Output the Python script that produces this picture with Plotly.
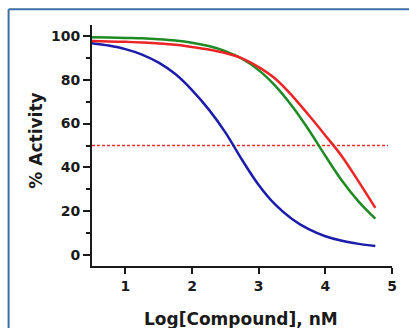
import plotly.graph_objects as go

# Values
log_conc = [0.5, 0.75, 1.0, 1.25, 1.5, 1.75, 2.0, 2.25, 2.5, 2.75,
            3.0, 3.25, 3.5, 3.75, 4.0, 4.25, 4.5, 4.75]
blue_activity = [96.7, 95.6, 94.0, 91.5, 87.8, 82.6, 75.3, 66.5, 56.0, 43.5,
                 32.0, 23.0, 16.5, 11.8, 8.6, 6.5, 5.1, 4.1]
red_activity = [97.7, 97.5, 97.3, 97.0, 96.6, 96.0, 95.0, 93.8, 92.2, 89.8,
                85.8, 80.5, 72.8, 63.9, 54.6, 45.0, 33.5, 21.5]
green_activity = [99.4, 99.3, 99.1, 98.9, 98.5, 97.9, 96.9, 95.4, 93.1, 89.6,
                  84.4, 77.2, 68.0, 57.2, 45.3, 33.9, 24.4, 16.6]
half_line_x = [0.5, 4.94]
half_line_y = [50, 50]
x_ticks = [1, 2, 3, 4, 5]
y_ticks = [0, 20, 40, 60, 80, 100]

fig = go.Figure()
fig.add_trace(go.Scatter(x=half_line_x, y=half_line_y, mode="lines",
                         line=dict(color="#e8302a", width=1.5, dash="3px,2px"),
                         hoverinfo="skip"))
fig.add_trace(go.Scatter(x=log_conc, y=blue_activity, mode="lines",
                         line=dict(color="#1c1caa", width=2.5, shape="spline")))
fig.add_trace(go.Scatter(x=log_conc, y=green_activity, mode="lines",
                         line=dict(color="#1f8a24", width=2.5, shape="spline")))
fig.add_trace(go.Scatter(x=log_conc, y=red_activity, mode="lines",
                         line=dict(color="#ec2424", width=2.5, shape="spline")))

tickfont = dict(family="DejaVu Sans, sans-serif", size=14,
                color="#1a1a1a", weight="bold")
titlefont = dict(family="DejaVu Sans, sans-serif", size=17,
                 color="#1a1a1a", weight="bold")

fig.update_layout(
    width=409, height=328,
    margin=dict(l=92, r=13, t=25, b=62),
    paper_bgcolor="white", plot_bgcolor="white",
    showlegend=False,
    xaxis=dict(range=[0.5, 5], tickvals=x_ticks, showgrid=False, zeroline=False,
               showline=True, linecolor="#1a1a1a", linewidth=2,
               ticks="outside", ticklen=6, tickwidth=2, tickcolor="#1a1a1a",
               tickfont=tickfont),
    yaxis=dict(range=[-5, 105], tickvals=y_ticks, showgrid=False, zeroline=False,
               showline=True, linecolor="#1a1a1a", linewidth=2,
               ticks="outside", ticklen=7, tickwidth=2, tickcolor="#1a1a1a",
               minor=dict(ticks="outside", ticklen=4, tickwidth=2,
                          tickcolor="#1a1a1a", tick0=0, dtick=10),
               tickfont=tickfont),
    annotations=[
        dict(text="Log[Compound], nM", xref="paper", yref="paper",
             x=0.497, y=-0.22, xanchor="center", yanchor="middle",
             showarrow=False, font=titlefont),
        dict(text="% Activity", xref="paper", yref="paper",
             x=-0.1875, y=0.519, xanchor="center", yanchor="middle",
             textangle=-90, showarrow=False, font=titlefont),
    ],
    shapes=[
        dict(type="line", xref="paper", yref="paper",
             x0=-0.278, x1=-0.278, y0=1.065, y1=-1.0,
             line=dict(color="#3c6fa5", width=2)),
        dict(type="line", xref="paper", yref="paper",
             x0=-0.278, x1=2.0, y0=1.065, y1=1.065,
             line=dict(color="#3c6fa5", width=2)),
    ],
)

fig.write_html("out.html", config={"displayModeBar": False})

# remove the browser's default page margin so the figure sits at the window origin
with open("out.html", "r", encoding="utf-8") as f:
    html = f.read()
html = html.replace(
    "<head>",
    "<head><style>html,body{margin:0;padding:0;overflow:hidden;}</style>", 1)
with open("out.html", "w", encoding="utf-8") as f:
    f.write(html)
